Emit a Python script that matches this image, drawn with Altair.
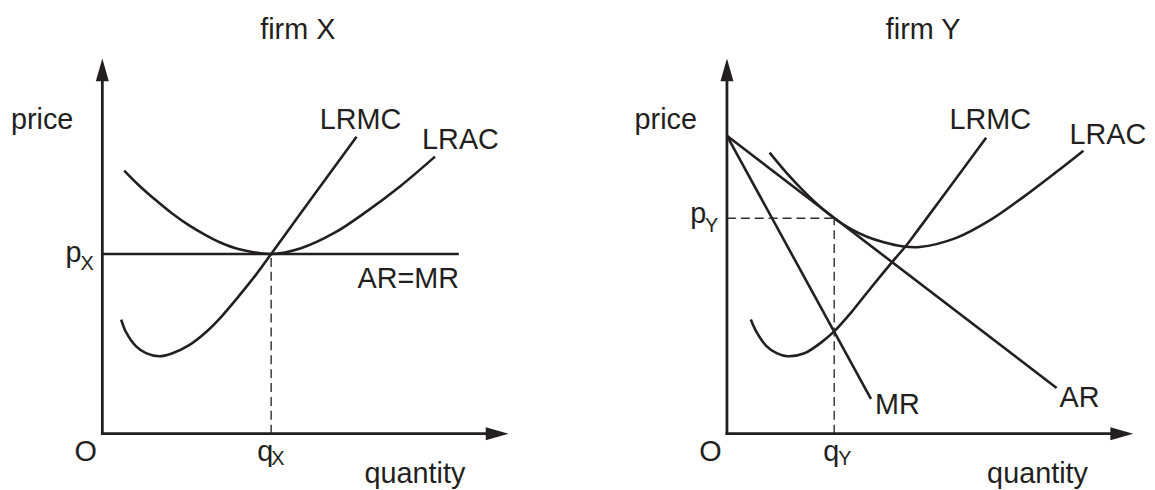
import altair as alt
import pandas as pd

# ---------------- data (quantity / price units) ----------------
# firm X (perfect competition)
X_LRAC_Q = [0.55, 0.925, 1.35, 1.75, 2.175, 2.6, 3.0, 3.425, 4.25, 5.0, 5.85, 6.675, 7.5, 8.375]
X_LRAC_P = [6.625, 6.25, 5.875, 5.55, 5.25, 5.0, 4.8, 4.65, 4.525, 4.67, 5.06, 5.61, 6.23, 6.975]
X_LRMC_Q = [0.475, 0.6, 0.85, 1.1, 1.425, 1.75, 2.175, 2.6, 3.0, 3.425, 3.85, 4.25, 5.3, 6.4]
X_LRMC_P = [2.875, 2.55, 2.2, 2.03, 1.95, 2.02, 2.225, 2.55, 2.95, 3.45, 3.98, 4.525, 5.97, 7.475]
X_ARMR_Q = [0.0, 8.975]
X_PRICE = 4.525
X_QTY = 4.25

# firm Y (monopolistic competition)
Y_LRAC_Q = [1.075, 1.5, 2.0, 2.35, 2.7, 3.125, 3.525, 3.95, 4.375, 4.85, 5.775, 6.625, 7.45, 8.275, 8.975]
Y_LRAC_P = [7.075, 6.565, 6.036, 5.71, 5.425, 5.15, 4.96, 4.82, 4.725, 4.7, 4.93, 5.375, 5.95, 6.575, 7.125]
Y_LRMC_Q = [0.6, 0.75, 1.0, 1.25, 1.525, 1.95, 2.375, 2.7, 3.125, 3.525, 3.875, 4.2, 4.525, 4.825, 6.525]
Y_LRMC_P = [2.875, 2.55, 2.2, 2.03, 1.95, 2.025, 2.3, 2.575, 3.05, 3.55, 3.98, 4.37, 4.75, 5.15, 7.45]
Y_AR_Q = [0.0, 8.3]
Y_AR_P = [7.5, 1.15]
Y_MR_Q = [0.0, 3.625]
Y_MR_P = [7.5, 0.875]
Y_PRICE = 5.425
Y_QTY = 2.7

# axes extent (to arrowhead centres)
AXIS_Q_END = 9.94
AXIS_P_END = 9.16

# labels
X_LABEL_TEXT = ["firm X", "price", "LRMC", "LRAC", "AR=MR", "p", "O", "q", "quantity"]
X_LABEL_Q = [3.975, -2.3, 5.475, 8.05, 6.425, -0.925, -0.7, 3.9, 6.6]
X_LABEL_P = [9.925, 7.675, 7.675, 7.175, 3.675, 4.325, -0.675, -0.675, -1.25]
X_SUB_TEXT = ["X", "X"]
X_SUB_Q = [-0.55, 4.25]
X_SUB_P = [4.125, -0.8]

Y_LABEL_TEXT = ["firm Y", "price", "LRMC", "LRAC", "MR", "AR", "p", "O", "q", "quantity"]
Y_LABEL_Q = [4.0, -2.325, 5.6, 8.625, 3.725, 8.375, -0.925, -0.7, 2.425, 6.55]
Y_LABEL_P = [9.925, 7.675, 7.675, 7.3, 0.5, 0.675, 5.3, -0.675, -0.675, -1.25]
Y_SUB_TEXT = ["Y", "Y"]
Y_SUB_Q = [-0.55, 2.8]
Y_SUB_P = [5.075, -0.8]

# ---------------- style / layout ----------------
INK = "#231f20"
FONT = "Liberation Sans"
UNIT = 40.0          # px per unit
PANEL_H = 482
Y_OFF = 427          # px from panel top to price = 0


def curves_df(series):
    rows = []
    for name, qs, ps in series:
        for i, (q, p) in enumerate(zip(qs, ps)):
            rows.append({"curve": name, "i": i, "q": q, "p": p})
    return pd.DataFrame(rows)


def panel(width, x_off, series, solid_rules, dashed_rules, lab, sub):
    xs = alt.Scale(domain=[-x_off / UNIT, (width - x_off) / UNIT], nice=False, zero=False)
    ys = alt.Scale(domain=[-(PANEL_H - Y_OFF) / UNIT, Y_OFF / UNIT], nice=False, zero=False)

    def X(f):
        return alt.X(f, type="quantitative", scale=xs, axis=None)

    def Y(f):
        return alt.Y(f, type="quantitative", scale=ys, axis=None)

    axes = pd.DataFrame({"q": [0.0, 0.0], "p": [0.0, 0.0],
                         "q2": [AXIS_Q_END, 0.0], "p2": [0.0, AXIS_P_END]})
    axis_layer = alt.Chart(axes).mark_rule(color=INK, strokeWidth=2.8, strokeCap="square").encode(
        x=X("q"), y=Y("p"), x2="q2", y2="p2")

    arrow_x = alt.Chart(pd.DataFrame({"q": [AXIS_Q_END], "p": [0.0]})).mark_point(
        shape="M -1 -0.57 L 1 0 L -1 0.57 Z", filled=True, size=529, color=INK, opacity=1,
        strokeWidth=0).encode(x=X("q"), y=Y("p"))
    arrow_y = alt.Chart(pd.DataFrame({"q": [0.0], "p": [AXIS_P_END]})).mark_point(
        shape="M -0.57 1 L 0 -1 L 0.57 1 Z", filled=True, size=529, color=INK, opacity=1,
        strokeWidth=0).encode(x=X("q"), y=Y("p"))

    lines = alt.Chart(curves_df(series)).mark_line(
        color=INK, strokeWidth=2.6, interpolate="catmull-rom").encode(
        x=X("q"), y=Y("p"), detail="curve:N", order="i:Q")

    layers = [lines]
    if solid_rules is not None:
        layers.append(alt.Chart(solid_rules).mark_rule(color=INK, strokeWidth=2.6).encode(
            x=X("q"), y=Y("p"), x2="q2", y2="p2"))
    layers.append(alt.Chart(dashed_rules).mark_rule(
        color="#2e2e2e", strokeWidth=1.4, strokeDash=[9, 5]).encode(
        x=X("q"), y=Y("p"), x2="q2", y2="p2"))
    layers += [axis_layer, arrow_x, arrow_y]

    layers.append(alt.Chart(lab).mark_text(
        align="left", baseline="alphabetic", font=FONT, fontSize=29, color=INK).encode(
        x=X("q"), y=Y("p"), text="t:N"))
    layers.append(alt.Chart(sub).mark_text(
        align="left", baseline="alphabetic", font=FONT, fontSize=20, color=INK).encode(
        x=X("q"), y=Y("p"), text="t:N"))

    return alt.layer(*layers).properties(width=width, height=PANEL_H)


left = panel(
    590, 95,
    [("LRAC", X_LRAC_Q, X_LRAC_P), ("LRMC", X_LRMC_Q, X_LRMC_P)],
    pd.DataFrame({"q": [X_ARMR_Q[0]], "p": [X_PRICE], "q2": [X_ARMR_Q[1]], "p2": [X_PRICE]}),
    pd.DataFrame({"q": [X_QTY], "p": [0.0], "q2": [X_QTY], "p2": [X_PRICE]}),
    pd.DataFrame({"t": X_LABEL_TEXT, "q": X_LABEL_Q, "p": X_LABEL_P}),
    pd.DataFrame({"t": X_SUB_TEXT, "q": X_SUB_Q, "p": X_SUB_P}),
)

right = panel(
    557, 134,
    [("LRAC", Y_LRAC_Q, Y_LRAC_P), ("LRMC", Y_LRMC_Q, Y_LRMC_P),
     ("AR", Y_AR_Q, Y_AR_P), ("MR", Y_MR_Q, Y_MR_P)],
    None,
    pd.DataFrame({"q": [Y_QTY, 0.0], "p": [0.0, Y_PRICE], "q2": [Y_QTY, Y_QTY], "p2": [Y_PRICE, Y_PRICE]}),
    pd.DataFrame({"t": Y_LABEL_TEXT, "q": Y_LABEL_Q, "p": Y_LABEL_P}),
    pd.DataFrame({"t": Y_SUB_TEXT, "q": Y_SUB_Q, "p": Y_SUB_P}),
)

chart = alt.hconcat(left, right, spacing=0).properties(
    padding=0, background="white"
).configure_view(strokeWidth=0)

chart.save("out.html", embed_options={"renderer": "svg", "actions": False})
